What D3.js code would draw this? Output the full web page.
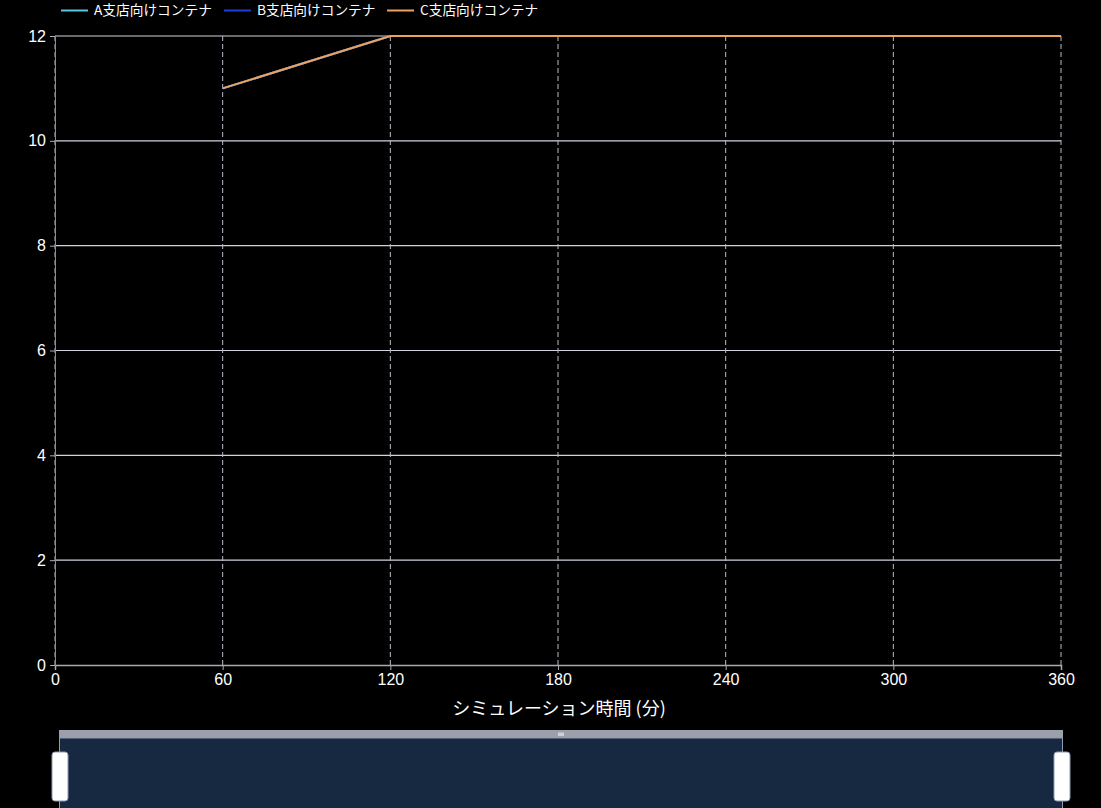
<!DOCTYPE html>
<html><head><meta charset="utf-8">
<script src="https://cdn.jsdelivr.net/npm/d3@7"></script>
<style>
html,body{margin:0;padding:0;background:#000;}
svg{display:block;font-family:"Noto Sans CJK JP","Noto Sans",sans-serif;}
</style></head>
<body><svg id="c" width="1101" height="808"></svg>
<script>
const times = [60, 120, 180, 240, 300, 360];
const seriesNames = ["A支店向けコンテナ", "B支店向けコンテナ", "C支店向けコンテナ"];
const seriesA = [11, 12, 12, 12, 12, 12];
const seriesB = [11, 12, 12, 12, 12, 12];
const seriesC = [11, 12, 12, 12, 12, 12];
const seriesColors = ["#5bc6e3", "#1f3fd6", "#eea35c"];
const xTicks = [0, 60, 120, 180, 240, 300, 360];
const yTicks = [0, 2, 4, 6, 8, 10, 12];
const xTitle = "シミュレーション時間 (分)";

const svg = d3.select("#c");
const L = 55, R = 1061, T = 36, B = 665;
const x = d3.scaleLinear().domain([0, 360]).range([L, R]);
const y = d3.scaleLinear().domain([0, 12]).range([B, T]);

svg.append("g").selectAll("line").data(yTicks.filter(d => d > 0)).join("line")
  .attr("x1", L).attr("x2", R).attr("y1", d => y(d)).attr("y2", d => y(d))
  .attr("stroke", "#d0d3dc").attr("stroke-width", 1.2);
svg.append("g").selectAll("line").data(xTicks).join("line")
  .attr("x1", d => x(d)).attr("x2", d => x(d)).attr("y1", T).attr("y2", B)
  .attr("stroke", "#b8bcc6").attr("stroke-width", 1).attr("stroke-dasharray", "5,3");

const xAxis = svg.append("g").attr("transform", `translate(0,${B})`)
  .call(d3.axisBottom(x).tickValues(xTicks).tickSize(5).tickPadding(4));
xAxis.select(".domain").attr("stroke", "#a8abb3").attr("stroke-width", 1.5);
xAxis.selectAll(".tick line").attr("stroke", "#a8abb3");
xAxis.selectAll("text").attr("fill", "#fff").attr("font-size", 16);

const yAxis = svg.append("g").attr("transform", `translate(${L},0)`)
  .call(d3.axisLeft(y).tickValues(yTicks).tickSize(5).tickPadding(4));
yAxis.select(".domain").attr("stroke", "#8a8d95");
yAxis.selectAll(".tick line").attr("stroke", "#a8abb3");
yAxis.selectAll("text").attr("fill", "#fff").attr("font-size", 16);

svg.append("text").attr("x", (L + R) / 2 + 1).attr("y", 715).attr("text-anchor", "middle")
  .attr("fill", "#fff").attr("font-size", 18).text(xTitle);

const allSeries = [seriesA, seriesB, seriesC];
const line = d3.line().x((d, i) => x(times[i])).y(d => y(d));
allSeries.forEach((s, k) => {
  svg.append("path").datum(s).attr("d", line).attr("fill", "none")
    .attr("stroke", seriesColors[k]).attr("stroke-width", 2);
});

const legendX = [61, 224, 387];
seriesNames.forEach((n, k) => {
  svg.append("line").attr("x1", legendX[k]).attr("x2", legendX[k] + 27)
    .attr("y1", 10.5).attr("y2", 10.5).attr("stroke", seriesColors[k]).attr("stroke-width", 2);
  svg.append("text").attr("x", legendX[k] + 33).attr("y", 15).attr("fill", "#fff")
    .attr("font-size", 13.7).text(n);
});

const sx0 = 59, sx1 = 1063;
svg.append("rect").attr("x", sx0).attr("y", 730).attr("width", sx1 - sx0).attr("height", 8).attr("fill", "#9ba0ab");
svg.append("rect").attr("x", sx0 + 0.5).attr("y", 738).attr("width", sx1 - sx0 - 1).attr("height", 80)
  .attr("fill", "#172941").attr("stroke", "#8f9bb0").attr("stroke-width", 1);
[-2, 0, 2].forEach(o => svg.append("line").attr("x1", 561 + o).attr("x2", 561 + o)
  .attr("y1", 732.5).attr("y2", 736).attr("stroke", "#fff").attr("stroke-width", 1));
[sx0 - 7, sx1 - 9].forEach(hx => {
  svg.append("rect").attr("x", hx).attr("y", 752).attr("width", 16).attr("height", 49)
    .attr("rx", 3).attr("fill", "#fff").attr("stroke", "#8f9bb0").attr("stroke-width", 1);
});
</script></body></html>
